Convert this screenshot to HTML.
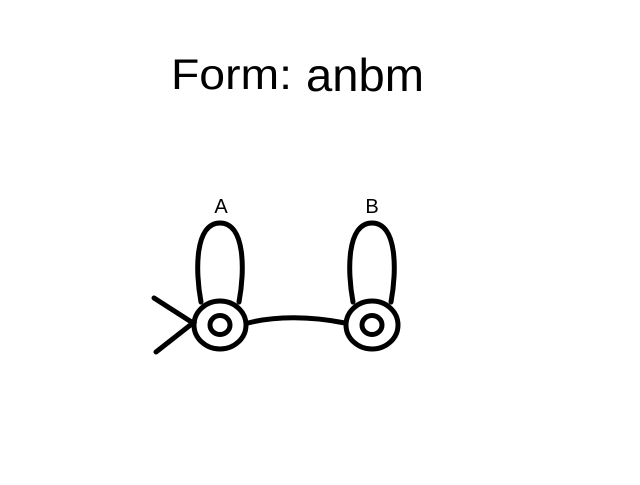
<!DOCTYPE html>
<html><head><style>html,body{margin:0;padding:0;background:#fff;}</style></head>
<body>
<svg width="640" height="480" viewBox="0 0 640 480" xmlns="http://www.w3.org/2000/svg">
<rect width="640" height="480" fill="#fff"/>
<text x="171" y="89" font-family="Liberation Sans, sans-serif" font-size="43" textLength="121" lengthAdjust="spacingAndGlyphs">Form:</text>
<text x="306" y="91" font-family="Liberation Sans, sans-serif" font-size="46" textLength="118" lengthAdjust="spacingAndGlyphs">anbm</text>
<text x="221" y="213" font-family="Liberation Sans, sans-serif" font-size="20" text-anchor="middle">A</text>
<text x="372" y="213" font-family="Liberation Sans, sans-serif" font-size="20" text-anchor="middle">B</text>
<g fill="none" stroke="#000" stroke-width="5" stroke-linecap="round">
<path d="M201,302 C195,270 195,223 220,223 C245,223 245,270 239,302"/>
<path d="M353,302 C347,270 347,223 372,223 C397,223 397,270 391,302"/>
<ellipse cx="220" cy="325" rx="26" ry="24"/>
<ellipse cx="220" cy="325" rx="10" ry="9.5"/>
<ellipse cx="372" cy="325" rx="26" ry="24"/>
<ellipse cx="372" cy="325" rx="10" ry="9.5"/>
<path d="M248,323 C275,316 310,316 345,323"/>
<path d="M154,298 L193,323 L156,352"/>
</g>
</svg>
</body></html>
